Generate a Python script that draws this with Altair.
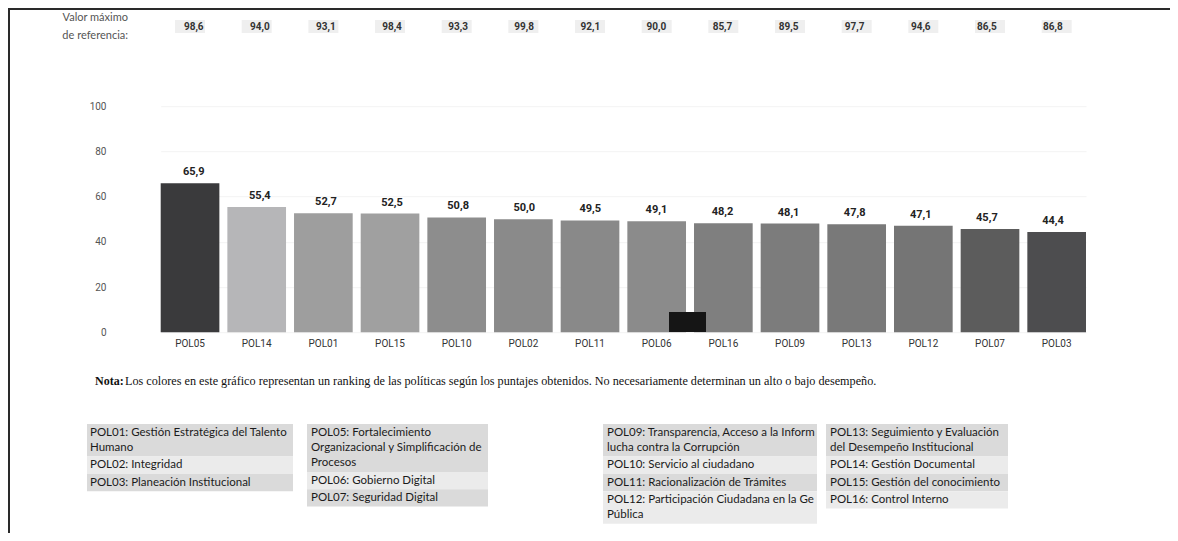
import altair as alt
import pandas as pd

# ---------------- data ----------------
policies = ["POL05", "POL14", "POL01", "POL15", "POL10", "POL02", "POL11",
            "POL06", "POL16", "POL09", "POL13", "POL12", "POL07", "POL03"]
scores = [65.9, 55.4, 52.7, 52.5, 50.8, 50.0, 49.5, 49.1, 48.2, 48.1, 47.8, 47.1, 45.7, 44.4]
max_ref = [98.6, 94.0, 93.1, 98.4, 93.3, 99.8, 92.1, 90.0, 85.7, 89.5, 97.7, 94.6, 86.5, 86.8]
y_ticks = [0, 20, 40, 60, 80, 100]

ref_title = ["Valor máximo", "de referencia:"]
note_bold = "Nota:"
note_rest = ("Los colores en este gráfico representan un ranking de las políticas según los puntajes  "
             "obtenidos. No necesariamente determinan un alto o bajo desempeño.")

legend_col1 = [["POL01: Gestión Estratégica del Talento", "Humano"],
               ["POL02: Integridad"],
               ["POL03: Planeación Institucional"]]
legend_col2 = [["POL05: Fortalecimiento", "Organizacional y Simplificación de", "Procesos"],
               ["POL06: Gobierno Digital"],
               ["POL07: Seguridad Digital"]]
legend_col3 = [["POL09: Transparencia, Acceso a la Informa", "lucha contra la Corrupción"],
               ["POL10: Servicio al ciudadano"],
               ["POL11: Racionalización de Trámites"],
               ["POL12: Participación Ciudadana en la Ges", "Pública"]]
legend_col4 = [["POL13: Seguimiento y Evaluación", "del Desempeño Institucional"],
               ["POL14: Gestión Documental"],
               ["POL15: Gestión del conocimiento"],
               ["POL16: Control Interno"]]

# ---------------- styles ----------------
bar_colors = ["#3a3a3c", "#b6b6b8", "#9e9e9e", "#a0a0a0", "#8d8d8d", "#8a8a8a", "#898989",
              "#8b8b8b", "#7f7f7f", "#7c7c7c", "#797979", "#757575", "#5c5c5c", "#4d4d4f"]

def fmt(v):
    return f"{v:.1f}".replace(".", ",")

df = pd.DataFrame({
    "policy": policies,
    "score": scores,
    "label": [fmt(v) for v in scores],
    "maxlabel": [fmt(v) for v in max_ref],
})

# layout (view origin = page (122, 106.2))
OX, OY = 122.0, 106.2
W, H = 990, 226.1
PAD = {"left": OX - 8, "top": OY - 8, "right": 1162 - (OX - 8) - W, "bottom": 525 - (OY - 8) - H}

def xscale():
    return alt.Scale(domain=policies, range=[160.7 - OX, 1086 - OX], paddingInner=0.12, paddingOuter=0)

def yscale():
    return alt.Scale(domain=[0, 100])

base = alt.Chart(df)

bars = base.mark_bar().encode(
    x=alt.X("policy:N", scale=xscale(), sort=policies,
            axis=alt.Axis(title=None, domain=False, ticks=False, labelAngle=0, labelPadding=6,
                          labelFontSize=10, labelColor="#333333", labelFont="Roboto")),
    y=alt.Y("score:Q", scale=yscale(),
            axis=alt.Axis(title=None, values=y_ticks, domain=False, ticks=False, grid=True,
                          gridColor="#f3f3f3", labelColor="#555555", labelFontSize=10,
                          labelFont="Roboto", labelPadding=16)),
    color=alt.Color("policy:N", scale=alt.Scale(domain=policies, range=bar_colors), legend=None),
)

bar_labels = base.mark_text(dy=-11, fontSize=11, fontWeight="bold", font="Roboto", color="#222222").encode(
    x=alt.X("policy:N", scale=xscale(), sort=policies, axis=None),
    y=alt.Y("score:Q", scale=yscale(), axis=None),
    text="label:N",
)

ref_bg = base.mark_bar(width=30, color="#efefef").encode(
    x=alt.X("policy:N", scale=xscale(), sort=policies, axis=None),
    y=alt.value(20 - OY), y2=alt.value(33 - OY),
)
ref_text = base.mark_text(fontSize=10, fontWeight="bold", font="Roboto", color="#333333").encode(
    x=alt.X("policy:N", scale=xscale(), sort=policies, axis=None),
    y=alt.value(26.5 - OY),
    text="maxlabel:N",
)

title_df = pd.DataFrame({"t": ref_title})
ref_title_1 = alt.Chart(title_df).transform_filter(alt.datum.t == ref_title[0]).mark_text(
    align="right", fontSize=11, font="Lato", color="#555555").encode(
    x=alt.value(128 - OX), y=alt.value(18 - OY), text="t:N")
ref_title_2 = alt.Chart(title_df).transform_filter(alt.datum.t == ref_title[1]).mark_text(
    align="right", fontSize=11, font="Lato", color="#555555").encode(
    x=alt.value(128 - OX), y=alt.value(36 - OY), text="t:N")

note_df = pd.DataFrame({"a": [note_bold], "b": [note_rest]})
note1 = alt.Chart(note_df).mark_text(align="left", fontSize=12, fontWeight="bold",
                                     font="Liberation Serif", color="#111111").encode(
    x=alt.value(95 - OX), y=alt.value(381 - OY), text="a:N")
note2 = alt.Chart(note_df).mark_text(align="left", fontSize=12.2,
                                     font="Liberation Serif", color="#111111").encode(
    x=alt.value(95 - OX + 30), y=alt.value(381 - OY), text="b:N")

# legend boxes
cols = [(legend_col1, 87, 293, 90), (legend_col2, 307, 488, 311),
        (legend_col3, 603, 817, 607), (legend_col4, 826, 1008, 830)]
rect_rows, text_rows = [], []
LINE, PADV, TOP = 15.3, 1.0, 424.0
for entries, x0, x1, tx in cols:
    y = TOP
    for k, lines in enumerate(entries):
        h = len(lines) * LINE + 2 * PADV
        rect_rows.append({"x0": x0 - OX, "x1": x1 - OX, "y0": y - OY, "y1": y + h - OY,
                          "shade": "dark" if k % 2 == 0 else "light"})
        for j, ln in enumerate(lines):
            text_rows.append({"x": tx - OX, "y": y + PADV + LINE * j + LINE / 2 - OY, "t": ln})
        y += h
rect_df = pd.DataFrame(rect_rows)
text_df = pd.DataFrame(text_rows)

leg_rects = alt.Chart(rect_df).mark_rect().encode(
    x=alt.X("x0:Q", scale=None, axis=None), x2="x1:Q",
    y=alt.Y("y0:Q", scale=None, axis=None), y2="y1:Q",
    color=alt.Color("shade:N", scale=alt.Scale(domain=["dark", "light"], range=["#dadada", "#ebebeb"]),
                    legend=None),
)
leg_text = alt.Chart(text_df).mark_text(align="left", baseline="middle", fontSize=11.5, font="Lato",
                                        color="#1a1a1a", limit=210, ellipsis="\u200b").encode(
    x=alt.X("x:Q", scale=None, axis=None), y=alt.Y("y:Q", scale=None, axis=None), text="t:N")

# frame lines and tooltip artefact
one = pd.DataFrame({"k": [0]})
frame_top = alt.Chart(one).mark_rule(color="#2a2a2a", strokeWidth=2).encode(
    x=alt.value(-(OX - 8)), x2=alt.value(1162 - (OX - 8)), y=alt.value(-(OY - 8) + 1))
frame_left = alt.Chart(one).mark_rule(color="#2a2a2a", strokeWidth=2).encode(
    x=alt.value(-(OX - 8) + 1), y=alt.value(-(OY - 8)), y2=alt.value(525 - (OY - 8)))
tip = alt.Chart(one).mark_rect(color="#151515").encode(
    x=alt.value(669 - OX), x2=alt.value(706 - OX), y=alt.value(312 - OY), y2=alt.value(332 - OY))

chart = alt.layer(
    bars, bar_labels, tip, ref_bg, ref_text, ref_title_1, ref_title_2, note1, note2,
    leg_rects, leg_text, frame_top, frame_left,
).resolve_scale(color="independent", x="independent", y="independent").properties(
    width=W, height=H,
    autosize=alt.AutoSizeParams(type="none"),
    padding=PAD,
    background="white",
).configure_view(stroke=None)

chart.save("out.html", embed_options={"renderer": "svg", "actions": False})
